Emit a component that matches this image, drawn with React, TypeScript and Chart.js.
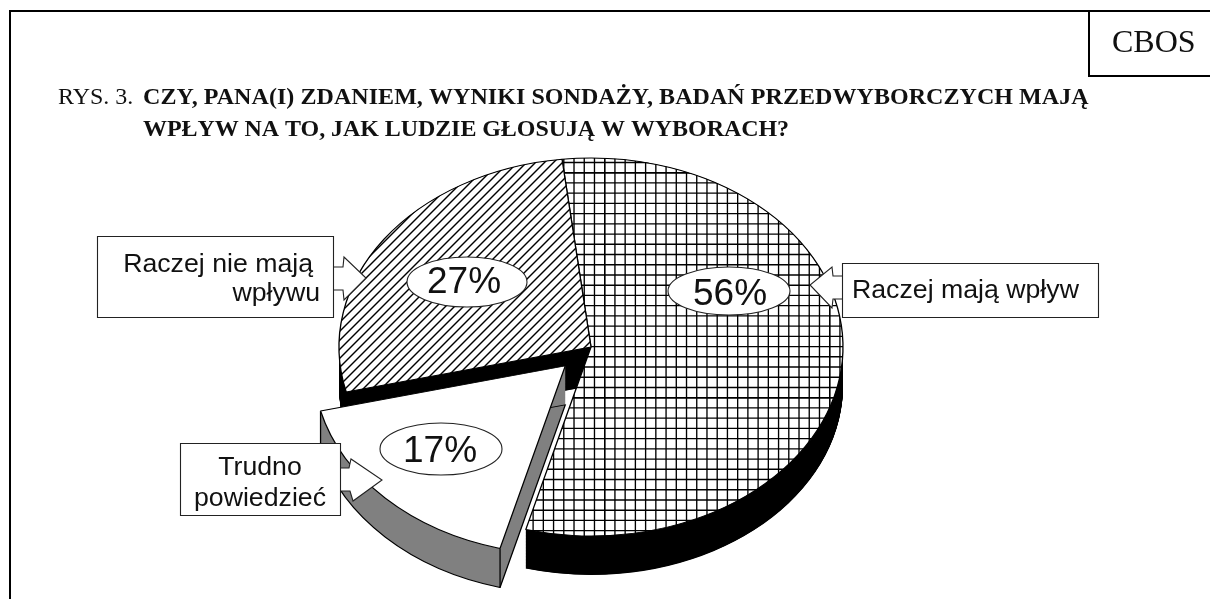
import React, { useEffect, useRef } from "react";
import { Chart, registerables } from "chart.js";

Chart.register(...registerables);

const categories = ["Raczej mają wpływ", "Trudno powiedzieć", "Raczej nie mają wpływu"];
const shares = [56, 17, 27];
const calloutLines = [["Raczej mają wpływ"], ["Trudno", "powiedzieć"], ["Raczej nie mają", "wpływu"]];
const figureLabel = "RYS. 3.";
const titleLines = [
  "CZY, PANA(I) ZDANIEM, WYNIKI SONDAŻY, BADAŃ PRZEDWYBORCZYCH MAJĄ",
  "WPŁYW NA TO, JAK LUDZIE GŁOSUJĄ W WYBORACH?",
];
const sourceLabel = "CBOS";

const W = 1210;
const H = 599;
const CY = 347;
const SQUASH = 0.75;
const DEPTH = 39;
const EXPLODE = 36;
const EXPLODED_INDEX = 1;

function applySquash(ctx: CanvasRenderingContext2D) {
  ctx.translate(0, CY);
  ctx.scale(1, SQUASH);
  ctx.translate(0, -CY);
}

function inverseSquash(): DOMMatrix {
  return new DOMMatrix().translate(0, CY).scale(1, 1 / SQUASH).translate(0, -CY);
}

function gridPattern(ctx: CanvasRenderingContext2D): CanvasPattern {
  const tile = 225;
  const period = tile / 22;
  const c = document.createElement("canvas");
  c.width = tile;
  c.height = tile;
  const g = c.getContext("2d")!;
  g.fillStyle = "#fff";
  g.fillRect(0, 0, tile, tile);
  g.strokeStyle = "#000";
  g.lineWidth = 1.35;
  for (let i = 0; i < 23; i++) {
    const x = (154.7 + i * period) % tile;
    const y = (172.7 + i * period) % tile;
    g.beginPath();
    g.moveTo(x, 0);
    g.lineTo(x, tile);
    g.stroke();
    g.beginPath();
    g.moveTo(0, y);
    g.lineTo(tile, y);
    g.stroke();
  }
  const p = ctx.createPattern(c, "repeat")!;
  p.setTransform(inverseSquash());
  return p;
}

function hatchPattern(ctx: CanvasRenderingContext2D): CanvasPattern {
  const tile = 9;
  const c = document.createElement("canvas");
  c.width = tile;
  c.height = tile;
  const g = c.getContext("2d")!;
  g.fillStyle = "#fff";
  g.fillRect(0, 0, tile, tile);
  g.strokeStyle = "#000";
  g.lineWidth = 1.4;
  for (const o of [-tile, 0, tile]) {
    g.beginPath();
    g.moveTo(o - 1, tile + 1);
    g.lineTo(o + tile + 1, -1);
    g.stroke();
  }
  const p = ctx.createPattern(c, "repeat")!;
  p.setTransform(inverseSquash().translate(5, 0));
  return p;
}

function explodeShift(arc: any): [number, number] {
  const mid = (arc.startAngle + arc.endAngle) / 2;
  return [Math.cos(mid) * EXPLODE, Math.sin(mid) * EXPLODE];
}

function drawWall(ctx: CanvasRenderingContext2D, arc: any, colour: string, edges: boolean) {
  const depth = DEPTH / SQUASH;
  ctx.fillStyle = colour;
  for (let d = depth; d >= 0; d -= 0.5) {
    ctx.beginPath();
    ctx.moveTo(arc.x, arc.y + d);
    ctx.arc(arc.x, arc.y + d, arc.outerRadius, arc.startAngle, arc.endAngle);
    ctx.closePath();
    ctx.fill();
  }
  if (edges) {
    ctx.strokeStyle = "#000";
    ctx.lineWidth = 1.3;
    ctx.beginPath();
    ctx.moveTo(arc.x, arc.y + depth);
    ctx.arc(arc.x, arc.y + depth, arc.outerRadius, arc.startAngle, arc.endAngle);
    ctx.closePath();
    ctx.stroke();
    for (const a of [arc.startAngle, arc.endAngle]) {
      const px = arc.x + Math.cos(a) * arc.outerRadius;
      const py = arc.y + Math.sin(a) * arc.outerRadius;
      ctx.beginPath();
      ctx.moveTo(px, py);
      ctx.lineTo(px, py + depth);
      ctx.stroke();
    }
  }
}

function poly(ctx: CanvasRenderingContext2D, pts: number[][]) {
  ctx.beginPath();
  pts.forEach(([x, y], i) => (i ? ctx.lineTo(x, y) : ctx.moveTo(x, y)));
}

function callout(
  ctx: CanvasRenderingContext2D,
  box: number[],
  arrow: number[][],
  lines: string[],
  textAt: number[][],
  align: CanvasTextAlign
) {
  ctx.fillStyle = "#fff";
  ctx.strokeStyle = "#222";
  ctx.lineWidth = 1.1;
  poly(ctx, arrow);
  ctx.fill();
  ctx.stroke();
  ctx.beginPath();
  ctx.rect(box[0] + 0.5, box[1] + 0.5, box[2], box[3]);
  ctx.fill();
  ctx.stroke();
  ctx.fillStyle = "#111";
  ctx.font = '26.7px "Liberation Sans"';
  ctx.textAlign = align;
  ctx.textBaseline = "alphabetic";
  lines.forEach((l, i) => ctx.fillText(l, textAt[i][0], textAt[i][1]));
}

function bubble(
  ctx: CanvasRenderingContext2D,
  cx: number,
  cy: number,
  rx: number,
  ry: number,
  text: string,
  tx: number,
  ty: number
) {
  ctx.fillStyle = "#fff";
  ctx.strokeStyle = "#222";
  ctx.lineWidth = 1.1;
  ctx.beginPath();
  ctx.ellipse(cx, cy, rx, ry, 0, 0, Math.PI * 2);
  ctx.fill();
  ctx.stroke();
  ctx.fillStyle = "#111";
  ctx.font = '37px "Liberation Sans"';
  ctx.textAlign = "center";
  ctx.textBaseline = "alphabetic";
  ctx.fillText(text, tx, ty);
}

const piePlugin = {
  id: "pie3d",
  beforeDatasetDraw(chart: any, args: any) {
    const ctx: CanvasRenderingContext2D = chart.ctx;
    const arcs = args.meta.data;
    ctx.save();
    applySquash(ctx);
    arcs.forEach((arc: any, i: number) => {
      if (i !== EXPLODED_INDEX) drawWall(ctx, arc, "#000", false);
    });
    arcs.forEach((arc: any, i: number) => {
      if (i !== EXPLODED_INDEX) arc.draw(ctx);
    });
    const ex = arcs[EXPLODED_INDEX];
    const [sx, sy] = explodeShift(ex);
    ctx.translate(sx, sy);
    drawWall(ctx, ex, "#808080", true);
    ex.draw(ctx);
    ctx.restore();
    return false;
  },
  afterDatasetsDraw(chart: any) {
    const ctx: CanvasRenderingContext2D = chart.ctx as any;
    ctx.save();
    // Frame
    ctx.strokeStyle = "#000";
    ctx.lineWidth = 2;
    ctx.beginPath();
    ctx.moveTo(10, H);
    ctx.lineTo(10, 11);
    ctx.lineTo(W, 11);
    ctx.moveTo(1089, 11);
    ctx.lineTo(1089, 76);
    ctx.lineTo(W, 76);
    ctx.stroke();
    // Source
    ctx.fillStyle = "#111";
    ctx.textBaseline = "alphabetic";
    ctx.textAlign = "left";
    ctx.font = '32px "Liberation Serif"';
    ctx.fillText(sourceLabel, 1112, 52);
    // Title
    ctx.font = '24px "Liberation Serif"';
    ctx.fillText(figureLabel, 58, 104);
    ctx.font = 'bold 24px "Liberation Serif"';
    (ctx as any).letterSpacing = "0.06px";
    ctx.fillText(titleLines[0], 143, 104);
    (ctx as any).letterSpacing = "-0.07px";
    ctx.fillText(titleLines[1], 143, 136);
    (ctx as any).letterSpacing = "0px";
    // Percent bubbles
    bubble(ctx, 729, 291, 61, 24, `${shares[0]}%`, 730, 305);
    bubble(ctx, 441, 449, 61, 26, `${shares[1]}%`, 440, 462);
    bubble(ctx, 467, 282, 60, 25, `${shares[2]}%`, 464, 293);
    // Callouts
    callout(
      ctx,
      [842, 263, 256, 54],
      [[842, 276], [833, 276], [832, 267], [810, 285], [832, 308], [833, 299], [842, 299]],
      calloutLines[0],
      [[852, 298]],
      "left"
    );
    callout(
      ctx,
      [97, 236, 236, 81],
      [[333, 267], [343, 267], [344, 257], [366, 278], [344, 300], [343, 290], [333, 290]],
      calloutLines[2],
      [[313, 272], [320, 301]],
      "right"
    );
    callout(
      ctx,
      [180, 443, 160, 72],
      [[340, 468], [349, 468], [351, 459], [382, 480], [353, 501], [350, 491], [340, 491]],
      calloutLines[1],
      [[260, 475], [260, 506]],
      "center"
    );
    ctx.restore();
  },
};

export default function App() {
  const ref = useRef<HTMLCanvasElement>(null);
  useEffect(() => {
    const canvas = ref.current!;
    const ctx = canvas.getContext("2d")!;
    const chart = new Chart(canvas, {
      type: "pie",
      data: {
        labels: categories,
        datasets: [
          {
            data: shares,
            backgroundColor: [gridPattern(ctx), "#ffffff", hatchPattern(ctx)],
            borderColor: "#000000",
            borderWidth: 1.3,
            radius: 252,
          },
        ],
      },
      options: {
        responsive: false,
        animation: false,
        rotation: -6.6,
        layout: { padding: { left: 0, right: 28, top: 95, bottom: 0 } },
        plugins: { legend: { display: false }, tooltip: { enabled: false }, title: { display: false } },
        events: [],
      },
      plugins: [piePlugin],
    });
    return () => chart.destroy();
  }, []);
  return (
    <div style={{ position: "absolute", left: 0, top: 0, width: W, height: H, background: "#fff" }}>
      <canvas ref={ref} width={W} height={H} style={{ display: "block" }} />
    </div>
  );
}
